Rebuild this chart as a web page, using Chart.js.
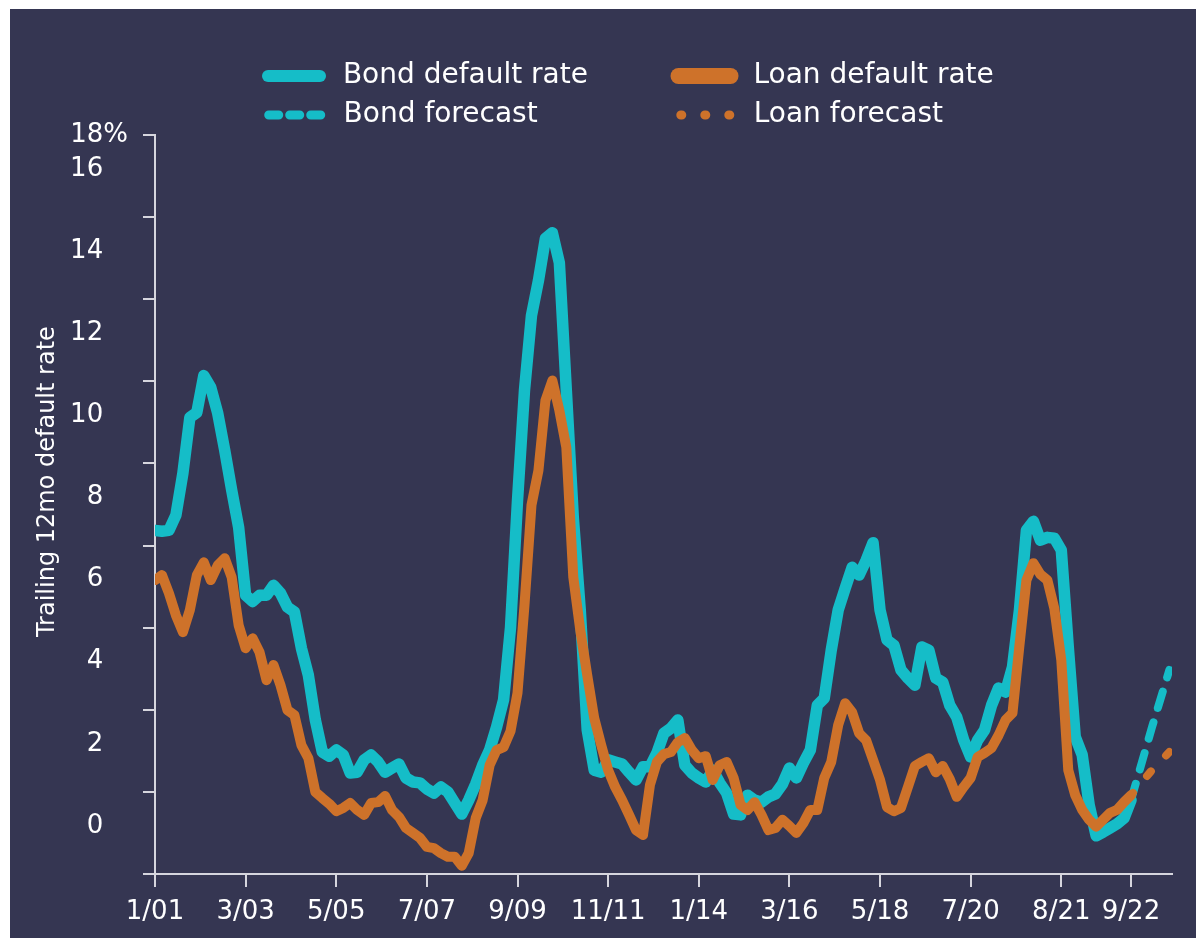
<!DOCTYPE html>
<html>
<head>
<meta charset="utf-8">
<script src="https://cdn.jsdelivr.net/npm/chart.js@4.4.1/dist/chart.umd.min.js"></script>
<style>
  html, body { margin: 0; padding: 0; background: #ffffff; }
  #wrap { position: absolute; left: 10px; top: 9px; width: 1186px; height: 929px; background: #353652; }
  canvas { display: block; }
</style>
</head>
<body>
<div id="wrap"><canvas id="c" width="1186" height="929"></canvas></div>
<script>
// ---------------- DATA ----------------
// Trailing 12-month default rates (%), sampled every 2 months starting Jan 2001
const bondRate = [
  7.20, 7.18, 7.20, 7.57, 8.59, 9.95, 10.07, 10.97, 10.68, 10.05,
  9.15, 8.18, 7.27, 5.62, 5.47, 5.62, 5.62, 5.86, 5.67, 5.33,
  5.21, 4.33, 3.67, 2.58, 1.80, 1.70, 1.85, 1.73, 1.29, 1.31,
  1.61, 1.73, 1.56, 1.31, 1.41, 1.51, 1.17, 1.07, 1.05, 0.90,
  0.80, 0.95, 0.83, 0.56, 0.29, 0.63, 1.02, 1.48, 1.85, 2.41,
  3.07, 4.84, 7.93, 10.61, 12.43, 13.28, 14.31, 14.45, 13.72, 10.61,
  7.52, 5.26, 2.34, 1.36, 1.31, 1.61, 1.56, 1.51, 1.31, 1.12,
  1.44, 1.44, 1.78, 2.26, 2.38, 2.58, 1.48, 1.29, 1.17, 1.07,
  1.36, 1.05, 0.80, 0.29, 0.27, 0.75, 0.63, 0.58, 0.71, 0.78,
  1.02, 1.41, 1.17, 1.53, 1.85, 2.94, 3.11, 4.28, 5.26, 5.79,
  6.30, 6.11, 6.47, 6.90, 5.26, 4.53, 4.40, 3.80, 3.60, 3.43,
  4.36, 4.28, 3.60, 3.50, 2.94, 2.65, 2.09, 1.68, 2.09, 2.34,
  2.94, 3.36, 3.26, 3.87, 5.26, 7.20, 7.42, 6.96, 7.03, 7.01,
  6.72, 4.36, 2.17, 1.73, 0.51, -0.24, -0.15, -0.05, 0.05, 0.19,
  0.63
];
const loanRate = [
  5.99, 6.11, 5.67, 5.13, 4.72, 5.26, 6.11, 6.42, 5.99, 6.35,
  6.52, 6.06, 4.89, 4.33, 4.57, 4.23, 3.55, 3.92, 3.43, 2.82,
  2.70, 1.97, 1.65, 0.83, 0.68, 0.54, 0.36, 0.44, 0.56, 0.39,
  0.27, 0.56, 0.58, 0.73, 0.39, 0.22, -0.05, -0.17, -0.29, -0.51,
  -0.54, -0.66, -0.75, -0.75, -0.97, -0.66, 0.19, 0.63, 1.48, 1.85,
  1.92, 2.31, 3.24, 5.38, 7.81, 8.66, 10.36, 10.85, 10.12, 9.22,
  6.06, 4.77, 3.67, 2.63, 1.97, 1.36, 0.95, 0.63, 0.27, -0.10,
  -0.22, 1.00, 1.56, 1.75, 1.80, 2.04, 2.14, 1.85, 1.65, 1.70,
  1.12, 1.48, 1.56, 1.17, 0.51, 0.39, 0.58, 0.27, -0.10, -0.05,
  0.15, 0.00, -0.17, 0.07, 0.39, 0.39, 1.17, 1.56, 2.46, 2.99,
  2.77, 2.26, 2.09, 1.61, 1.12, 0.46, 0.36, 0.44, 0.95, 1.46,
  1.56, 1.65, 1.31, 1.46, 1.14, 0.71, 0.95, 1.17, 1.68, 1.78,
  1.90, 2.21, 2.58, 2.75, 4.40, 5.99, 6.40, 6.13, 5.99, 5.30,
  4.04, 1.36, 0.75, 0.39, 0.15, -0.02, 0.15, 0.32, 0.39, 0.58,
  0.75
];
// Forecast segments (months since Jan 2001)
const forecastMonths = [280, 286, 291];
const bondForecast = [0.63, 2.40, 3.80];
const loanForecast = [0.75, 1.36, 1.80];

// Axis tick labels
const xTickMonths = [0, 26, 52, 78, 104, 130, 156, 182, 208, 234, 260, 280];
const xTickLabels = ['1/01', '3/03', '5/05', '7/07', '9/09', '11/11', '1/14', '3/16', '5/18', '7/20', '8/21', '9/22'];
const yTickValues = [0, 2, 4, 6, 8, 10, 12, 14, 16, 16.83];
const yTickLabels = ['0', '2', '4', '6', '8', '10', '12', '14', '16', '18%'];

const seriesNames = ['Bond default rate', 'Loan default rate', 'Bond forecast', 'Loan forecast'];
const yTitle = 'Trailing 12mo default rate';

// ---------------- BUILD ----------------
const STEP = 2;
const toPoints = (vals) => vals.map((v, i) => ({ x: i * STEP, y: v }));
const toPointsAt = (xs, vals) => vals.map((v, i) => ({ x: xs[i], y: v }));

const Y_MIN = -1.17, Y_MAX = 16.83, X_MAX = 291.76;
const CYAN = '#15bdc8', ORANGE = '#ce722a', AXIS = '#d6d6de', TEXT = '#ffffff';
const FONT = '"DejaVu Sans", sans-serif';
const LEG_FONT_SIZE = 28, LEG_PAD = 11, LEG_BOX = 52;
const CANVAS_W = 1186;
const AREA_LEFT = 145, AREA_RIGHT = 1162;     // plot area in canvas px
const LEG_X = 258, COL_STEP = 410;            // legend first item x, column pitch
const LEFT_PAD = 56;

// legend texts (leading space = gap after the sample line, trailing spaces line up the columns)
const mctx = document.createElement('canvas').getContext('2d');
mctx.font = LEG_FONT_SIZE + 'px ' + FONT;
const tw = (s) => mctx.measureText(s).width;
function padTo(text, w) {
  let s = text;
  while (tw(s + ' ') <= w) s += ' ';
  let guard = 0;
  while (tw(s + '\u200A') <= w + 0.8 && guard++ < 40) s += '\u200A';
  return s;
}
const col1W = COL_STEP - LEG_PAD - LEG_BOX - LEG_FONT_SIZE / 2;
const col2W = tw(' ' + seriesNames[1]);
const legendTexts = [
  padTo(' ' + seriesNames[0], col1W), padTo(' ' + seriesNames[1], col2W),
  padTo(' ' + seriesNames[2], col1W), padTo(' ' + seriesNames[3], col2W)
];
const item1W = LEG_BOX + LEG_FONT_SIZE / 2 + tw(legendTexts[0]);
const item2W = LEG_BOX + LEG_FONT_SIZE / 2 + tw(legendTexts[1]);
const legendRight = 2 * LEG_X + item1W + LEG_PAD + item2W - LEFT_PAD;
const RIGHT_PAD = CANVAS_W - legendRight;
const rightSpacer = legendRight - AREA_RIGHT;

const legendStyle = [
  { w: 12, dash: [], off: 0 },
  { w: 16, dash: [], off: 0 },
  { w: 9, dash: [10, 11], off: 0 },
  { w: 9, dash: [1, 23], off: 22 }
];

const markValues = [];
for (let k = 0; k <= 9; k++) markValues.push(Y_MIN + 2 * k);

new Chart(document.getElementById('c'), {
  type: 'line',
  data: {
    datasets: [
      { label: seriesNames[0], data: toPoints(bondRate), borderColor: CYAN, borderWidth: 11.5, order: 1 },
      { label: seriesNames[1], data: toPoints(loanRate), borderColor: ORANGE, borderWidth: 10, order: 0 },
      { label: seriesNames[2], data: toPointsAt(forecastMonths, bondForecast), borderColor: CYAN, borderWidth: 8, borderDash: [17, 15], order: 3 },
      { label: seriesNames[3], data: toPointsAt(forecastMonths, loanForecast), borderColor: ORANGE, borderWidth: 8, borderDash: [6, 22], borderDashOffset: 3, order: 2 }
    ]
  },
  options: {
    animation: false,
    responsive: false,
    devicePixelRatio: 1,
    layout: { padding: { left: LEFT_PAD, right: RIGHT_PAD, top: 42, bottom: 0 } },
    elements: {
      line: { tension: 0, borderCapStyle: 'round', borderJoinStyle: 'round', fill: false },
      point: { radius: 0, hoverRadius: 0 }
    },
    plugins: {
      tooltip: { enabled: false },
      legend: {
        position: 'top',
        align: 'center',
        maxHeight: 84,
        labels: {
          usePointStyle: true,
          pointStyleWidth: LEG_BOX,
          padding: LEG_PAD,
          color: TEXT,
          font: { size: LEG_FONT_SIZE, family: FONT },
          generateLabels: (chart) => chart.data.datasets.map((ds, i) => ({
            text: legendTexts[i],
            datasetIndex: i,
            strokeStyle: ds.borderColor,
            fillStyle: ds.borderColor,
            fontColor: TEXT,
            lineWidth: legendStyle[i].w,
            lineDash: legendStyle[i].dash,
            lineDashOffset: legendStyle[i].off,
            lineCap: 'round',
            pointStyle: 'line',
            hidden: false
          }))
        }
      }
    },
    scales: {
      x: {
        type: 'linear',
        min: 0, max: X_MAX,
        afterBuildTicks: (s) => { s.ticks = xTickMonths.map(v => ({ value: v })); },
        afterFit: (s) => { s.height = 64; },
        ticks: {
          autoSkip: false, maxRotation: 0, padding: 10, color: TEXT,
          font: { size: 26, family: FONT },
          callback: (v, i) => xTickLabels[i]
        },
        grid: { drawOnChartArea: false, color: AXIS, lineWidth: 2, tickLength: 13 },
        border: { display: true, color: AXIS, width: 2 }
      },
      y: {
        type: 'linear', position: 'left', weight: 2,
        min: Y_MIN, max: Y_MAX,
        afterBuildTicks: (s) => { s.ticks = yTickValues.map(v => ({ value: v })); },
        afterFit: (s) => { s.width = AREA_LEFT - LEFT_PAD - 12; },
        ticks: {
          autoSkip: false, padding: 15, color: TEXT,
          font: { size: 26, family: FONT },
          callback: (v, i) => yTickLabels[i].endsWith('%') ? yTickLabels[i] : yTickLabels[i] + '   '
        },
        grid: { display: false, drawTicks: false },
        border: { display: false },
        title: {
          display: true, text: '      ' + yTitle, color: TEXT,
          font: { size: 24, family: FONT },
          padding: { top: 38 - LEFT_PAD - 14.4, bottom: 0 }
        }
      },
      yMarks: {
        type: 'linear', position: 'left', weight: 1,
        min: Y_MIN, max: Y_MAX,
        afterBuildTicks: (s) => { s.ticks = markValues.map(v => ({ value: v })); },
        afterFit: (s) => { s.width = 12; },
        ticks: { display: false },
        grid: { drawOnChartArea: false, color: AXIS, lineWidth: 2, tickLength: 12 },
        border: { display: true, color: AXIS, width: 2 }
      },
      spacer: {
        type: 'linear', position: 'right',
        min: 0, max: 1,
        afterFit: (s) => { s.width = rightSpacer; },
        ticks: { display: false },
        grid: { display: false, drawTicks: false },
        border: { display: false }
      }
    }
  }
});
</script>
</body>
</html>
